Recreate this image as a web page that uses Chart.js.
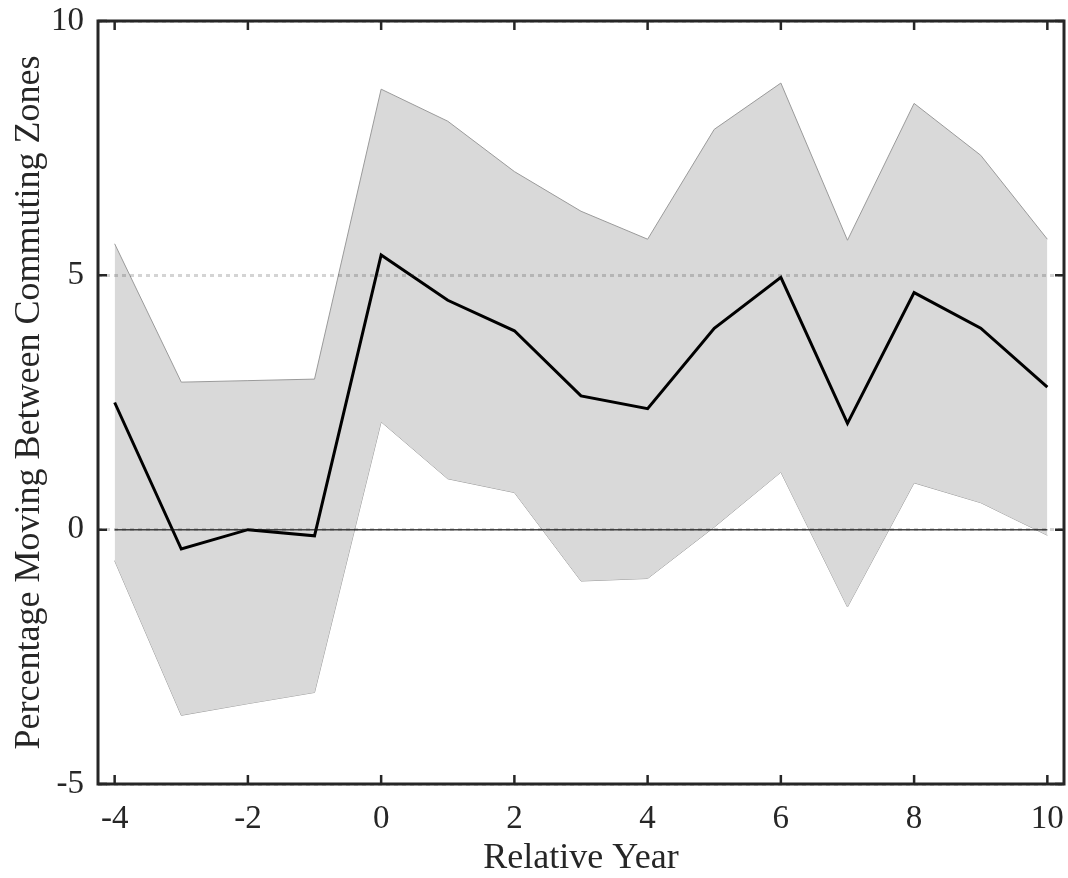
<!DOCTYPE html>
<html>
<head>
<meta charset="utf-8">
<script src="https://cdn.jsdelivr.net/npm/chart.js@4.4.1/dist/chart.umd.min.js"></script>
<style>
  html, body { margin: 0; padding: 0; background: #ffffff; }
  #wrap { width: 1068px; height: 878px; }
</style>
</head>
<body>
<div id="wrap"><canvas id="chart" width="1068" height="878"></canvas></div>
<script>
// Event-study estimates: share moving between commuting zones, by year relative to the event
const relativeYears = [-4, -3, -2, -1, 0, 1, 2, 3, 4, 5, 6, 7, 8, 9, 10];
const estimate      = [2.50, -0.38, 0.00, -0.12, 5.40, 4.51, 3.91, 2.63, 2.38, 3.96, 4.96, 2.09, 4.66, 3.96, 2.80];
const upperBound    = [5.62, 2.90, 2.93, 2.96, 8.66, 8.03, 7.04, 6.26, 5.71, 7.87, 8.78, 5.69, 8.38, 7.36, 5.71];
const lowerBound    = [-0.61, -3.65, -3.42, -3.20, 2.12, 1.00, 0.73, -1.01, -0.96, 0.05, 1.13, -1.52, 0.92, 0.53, -0.11];
const zeroLine      = [0, 0];
const zeroLineYears = [-4, 10];
const xTickValues   = [-4, -2, 0, 2, 4, 6, 8, 10];
const yTickValues   = [-5, 0, 5, 10];

const toPoints = (xs, ys) => xs.map((x, i) => ({ x: x, y: ys[i] }));

const AXIS_COLOR = '#262626';
const FONT_FAMILY = "'Liberation Serif', 'Times New Roman', serif";

// Keep the plot area fixed: no extra room reserved for overhanging tick labels
function clearScalePadding(scale) {
  scale.paddingTop = 0;
  scale.paddingBottom = 0;
  scale.paddingLeft = 0;
  scale.paddingRight = 0;
}

// Box around the plot area with inward tick marks on all four sides
const boxAxes = {
  id: 'boxAxes',
  afterDraw(chart) {
    const { ctx, chartArea: a, scales } = chart;
    const len = 9;
    ctx.save();
    ctx.strokeStyle = AXIS_COLOR;
    ctx.lineWidth = 2.5;
    ctx.beginPath();
    xTickValues.forEach(v => {
      const px = scales.x.getPixelForValue(v);
      ctx.moveTo(px, a.bottom); ctx.lineTo(px, a.bottom - len);
      ctx.moveTo(px, a.top);    ctx.lineTo(px, a.top + len);
    });
    yTickValues.forEach(v => {
      const py = scales.y.getPixelForValue(v);
      ctx.moveTo(a.left, py);  ctx.lineTo(a.left + len, py);
      ctx.moveTo(a.right, py); ctx.lineTo(a.right - len, py);
    });
    ctx.stroke();
    ctx.lineWidth = 3;
    ctx.strokeRect(a.left, a.top, a.right - a.left, a.bottom - a.top);
    ctx.restore();
  }
};

new Chart(document.getElementById('chart'), {
  type: 'line',
  data: {
    datasets: [
      {
        label: 'Estimate',
        data: toPoints(relativeYears, estimate),
        borderColor: '#000000',
        borderWidth: 3,
        pointRadius: 0,
        fill: false,
        order: 0
      },
      {
        label: 'Zero',
        data: toPoints(zeroLineYears, zeroLine),
        borderColor: 'rgba(40,40,40,0.85)',
        borderWidth: 1.5,
        pointRadius: 0,
        fill: false,
        order: 1
      },
      {
        label: 'Upper bound',
        data: toPoints(relativeYears, upperBound),
        borderColor: '#9a9a9a',
        borderWidth: 1,
        pointRadius: 0,
        backgroundColor: '#d9d9d9',
        fill: '+1',
        order: 2
      },
      {
        label: 'Lower bound',
        data: toPoints(relativeYears, lowerBound),
        borderColor: '#9a9a9a',
        borderWidth: 1,
        pointRadius: 0,
        fill: false,
        order: 3
      }
    ]
  },
  options: {
    responsive: false,
    animation: false,
    events: [],
    layout: { padding: { top: 21, right: 4, left: 0, bottom: 0 } },
    plugins: {
      legend: { display: false },
      tooltip: { enabled: false }
    },
    elements: { line: { tension: 0, borderJoinStyle: 'miter' } },
    scales: {
      x: {
        type: 'linear',
        min: -4.25,
        max: 10.25,
        afterBuildTicks(scale) { scale.ticks = xTickValues.map(v => ({ value: v })); },
        afterFit(scale) { scale.height = 94; clearScalePadding(scale); },
        grid: { display: false, drawTicks: false },
        border: { display: false },
        ticks: {
          padding: 16,
          color: AXIS_COLOR,
          maxRotation: 0,
          autoSkip: false,
          font: { family: FONT_FAMILY, size: 33 },
          callback: v => String(v)
        },
        title: {
          display: true,
          text: 'Relative Year',
          color: AXIS_COLOR,
          font: { family: FONT_FAMILY, size: 36 },
          padding: { top: 0, bottom: -2 }
        }
      },
      y: {
        type: 'linear',
        min: -5,
        max: 10,
        afterBuildTicks(scale) { scale.ticks = yTickValues.map(v => ({ value: v })); },
        afterFit(scale) { scale.width = 98; clearScalePadding(scale); },
        grid: {
          z: 1,
          drawTicks: false,
          color: 'rgba(38,38,38,0.2)',
          lineWidth: 3
        },
        border: { display: false, dash: [4, 4] },
        ticks: {
          padding: 14,
          color: AXIS_COLOR,
          font: { family: FONT_FAMILY, size: 33 },
          callback: v => String(v)
        },
        title: {
          display: true,
          text: 'Percentage Moving Between Commuting Zones',
          color: AXIS_COLOR,
          font: { family: FONT_FAMILY, size: 36 },
          padding: { top: 8, bottom: 0 }
        }
      }
    }
  },
  plugins: [boxAxes]
});
</script>
</body>
</html>
